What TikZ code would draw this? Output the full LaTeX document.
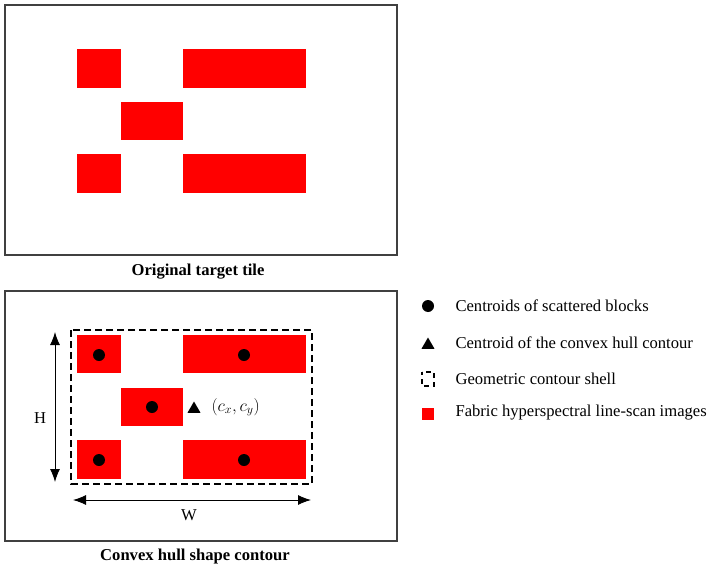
\documentclass[tikz,border=0pt]{standalone}
\usepackage{fontspec}
\setmainfont{Liberation Serif}
\usetikzlibrary{arrows.meta,shapes.geometric}
\definecolor{framegray}{HTML}{404040}
\definecolor{blockred}{HTML}{FF0000}
\begin{document}
\begin{tikzpicture}[x=1pt,y=-1pt,
  frame/.style={draw=framegray,line width=1.5pt},
  block/.style={fill=blockred},
  cdot/.style={circle,fill=black,inner sep=0pt,minimum size=12pt},
  tri/.style={regular polygon,regular polygon sides=3,fill=black,inner sep=0pt,minimum size=15pt},
  captext/.style={font=\fontsize{16.6}{18}\selectfont\bfseries},
  plain/.style={font=\fontsize{16.6}{18}\selectfont},
  lab/.style={plain,anchor=west},
  dimarrow/.style={line width=0.9pt,{Latex[length=13pt,width=10pt]}-{Latex[length=13pt,width=10pt]}}]
\useasboundingbox (0,0) rectangle (713,570);
% top panel
\draw[frame] (5,5) rectangle (397,255);
\fill[block] (77,49) rectangle (121,88);
\fill[block] (183,49) rectangle (306,88);
\fill[block] (121,102) rectangle (183,140);
\fill[block] (77,154) rectangle (121,193);
\fill[block] (183,154) rectangle (306,193);
\node[captext] (cap1) at (198,272) {Original target tile};
% bottom panel
\draw[frame] (5,291) rectangle (397,541);
\fill[block] (77,335) rectangle (121,373);
\fill[block] (183,335) rectangle (306,373);
\fill[block] (121,388) rectangle (183,426);
\fill[block] (77,440) rectangle (121,479);
\fill[block] (183,440) rectangle (306,479);
\draw[line width=1.6pt,dash pattern=on 7pt off 4pt] (71,330) rectangle (312,484);
\node[cdot] (d1) at (99,355) {};
\node[cdot] (d2) at (244,355) {};
\node[cdot] (d3) at (152,407) {};
\node[cdot] (d4) at (99,460) {};
\node[cdot] (d5) at (244,460) {};
\node[tri] (t) at (194,409) {};
\node[plain,anchor=west] (cxy) at (208,407) {$(c_x,c_y)$};
\coordinate (htop) at (55,332);
\coordinate (hbot) at (55,482);
\draw[dimarrow] (htop) -- (hbot);
\node[plain] (H) at (40,418) {H};
\coordinate (wl) at (73,500);
\coordinate (wr) at (311,500);
\draw[dimarrow] (wl) -- (wr);
\node[plain] (W) at (189,515) {W};
\node[captext] (cap2) at (195,557) {Convex hull shape contour};
% legend
\node[cdot] (ld) at (428,306) {};
\node[lab] (l1) at (452,306) {Centroids of scattered blocks};
\node[tri] (lt) at (428,345) {};
\node[lab] (l2) at (452,343) {Centroid of the convex hull contour};
\draw[line width=1.4pt,dash pattern=on 5pt off 4pt,dash phase=2pt] (422,372) rectangle (434,386);
\node[lab] (l3) at (452,379) {Geometric contour shell};
\fill[block] (422,408) rectangle (434,420);
\node[lab] (l4) at (452,413) {Fabric hyperspectral line-scan images};
\end{tikzpicture}
\end{document}
